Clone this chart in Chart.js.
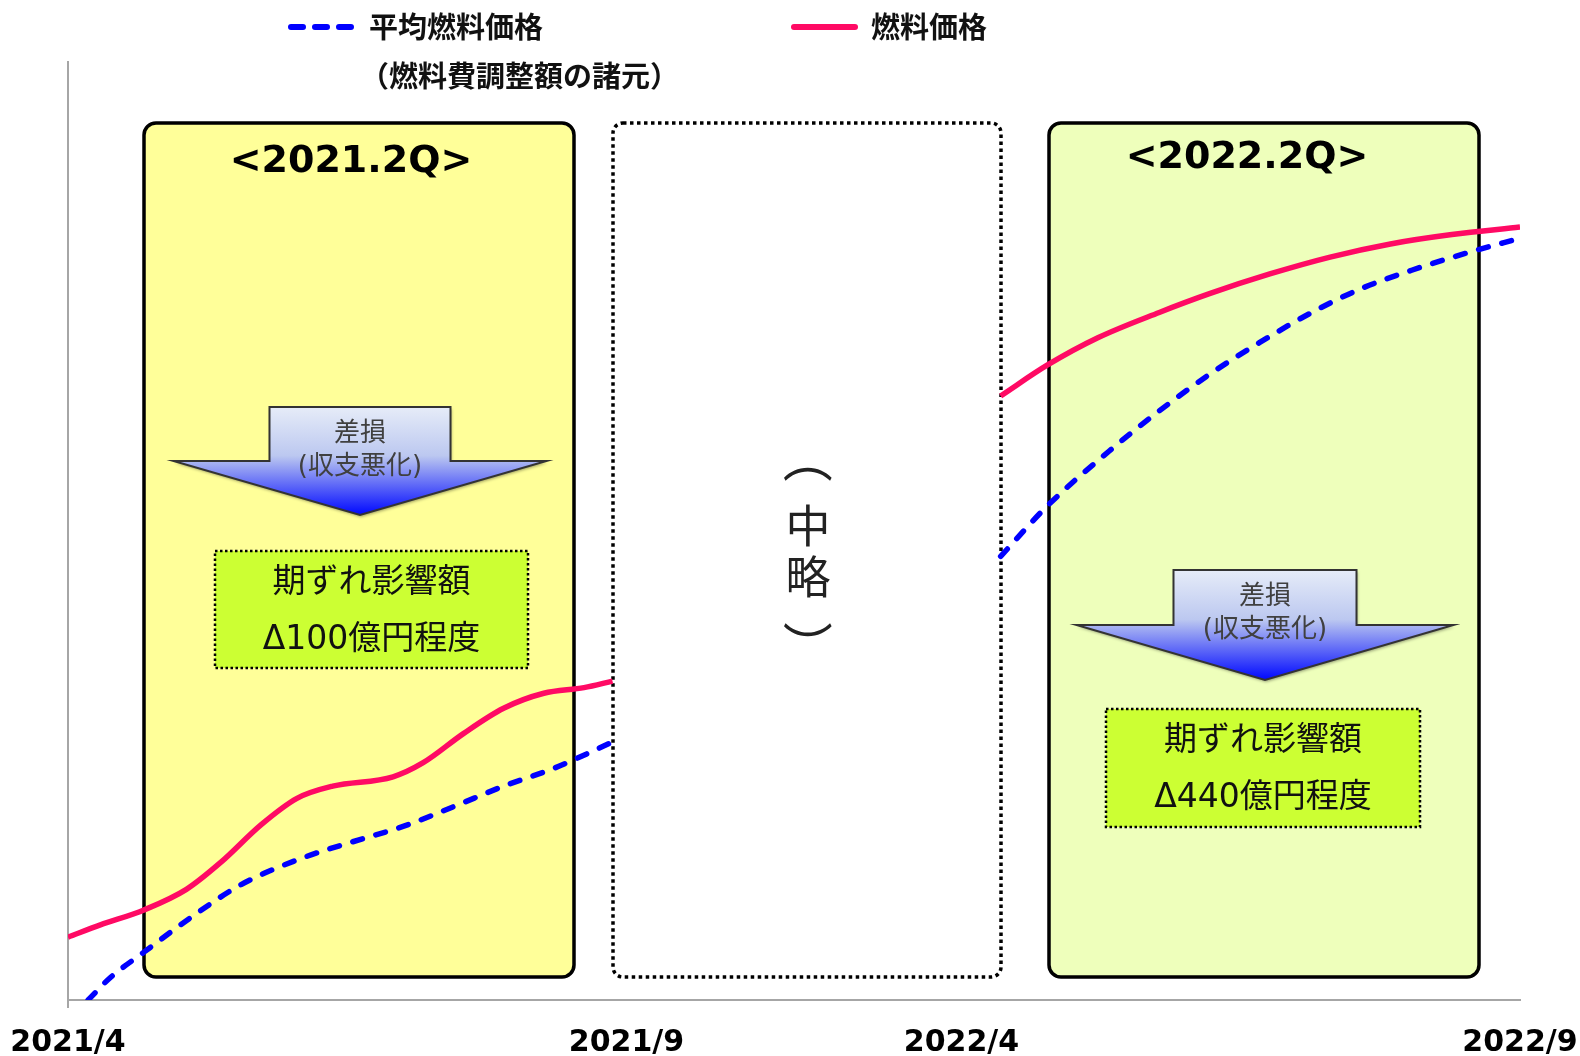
<!DOCTYPE html>
<html><head><meta charset="utf-8">
<script src="https://cdn.jsdelivr.net/npm/chart.js@4.4.0/dist/chart.umd.min.js"></script>
<style>html,body{margin:0;padding:0;background:#fff;}#wrap{width:1580px;height:1056px;position:relative;}</style>
</head><body><div id="wrap"><canvas id="c"></canvas></div>
<script>
// ---- data ----
const tickValues = [0, 5, 8, 13];
const tickLabels = ['2021/4', '2021/9', '2022/4', '2022/9'];

// 燃料価格 (solid red)
const fuelX1 = [0, 0.29, 0.68, 1.06, 1.37, 1.73, 2.05, 2.37, 2.91, 3.18, 3.54, 3.90, 4.26, 4.62, 4.875];
const fuelY1 = [6.7, 8.0, 9.6, 11.8, 14.7, 18.7, 21.5, 22.8, 23.8, 25.3, 28.4, 31.1, 32.7, 33.3, 34.0];
const fuelX2 = [8.35, 8.77, 9.22, 9.77, 10.22, 10.76, 11.30, 11.84, 12.39, 13];
const fuelY2 = [64.4, 67.7, 70.6, 73.3, 75.3, 77.4, 79.2, 80.6, 81.6, 82.4];

// 平均燃料価格 (dashed blue)
const avgX1 = [0.18, 0.38, 0.68, 1.10, 1.55, 2.09, 2.64, 3.0, 3.45, 3.90, 4.35, 4.875];
const avgY1 = [0, 2.4, 5.1, 8.8, 12.3, 15.1, 17.2, 18.5, 20.6, 22.8, 24.7, 27.5];
const avgX2 = [8.35, 8.77, 9.32, 9.77, 10.22, 10.67, 11.12, 11.57, 12.03, 12.57, 13];
const avgY2 = [47.3, 52.7, 58.5, 62.8, 66.7, 70.1, 73.2, 75.8, 77.8, 79.8, 81.2];

const seriesNames = ['平均燃料価格', '燃料価格'];
const legendSub = '（燃料費調整額の諸元）';

function pts(xs, ys) { return xs.map((x, i) => ({ x: x, y: ys[i] })); }
function joined(x1, y1, x2, y2) {
  return pts(x1, y1).concat([{ x: (x1[x1.length - 1] + x2[0]) / 2, y: null }], pts(x2, y2));
}

const RED = '#FF0A64', BLUE = '#0000FF';
const FJ = "'Noto Sans CJK JP', 'Noto Sans', sans-serif";
const FM = "'DejaVu Sans', 'Noto Sans CJK JP', sans-serif";

// ---- annotation drawing ----
function drawArrow(ctx, cx, top, stemW, stemH, headW, headH) {
  ctx.save();
  const sx = cx - stemW / 2, ex = cx + stemW / 2, sh = top + stemH, tip = sh + headH;
  ctx.beginPath();
  ctx.moveTo(sx, top); ctx.lineTo(ex, top); ctx.lineTo(ex, sh);
  ctx.lineTo(cx + headW / 2, sh); ctx.lineTo(cx, tip); ctx.lineTo(cx - headW / 2, sh);
  ctx.lineTo(sx, sh); ctx.closePath();
  const g = ctx.createLinearGradient(0, top, 0, tip);
  g.addColorStop(0, '#E6ECF8'); g.addColorStop(0.45, '#BCC8F0'); g.addColorStop(1, '#0008FF');
  ctx.shadowColor = 'rgba(0,0,0,0.35)'; ctx.shadowBlur = 3; ctx.shadowOffsetX = 1; ctx.shadowOffsetY = 2;
  ctx.fillStyle = g; ctx.fill();
  ctx.shadowColor = 'transparent';
  ctx.strokeStyle = '#333'; ctx.lineWidth = 2; ctx.stroke();
  ctx.fillStyle = '#404040'; ctx.textAlign = 'center'; ctx.textBaseline = 'middle';
  ctx.font = "26px " + FJ;
  ctx.fillText('差損', cx, top + 24);
  ctx.font = "26px " + FM;
  ctx.fillText('(収支悪化)', cx, top + 60);
  ctx.restore();
}
function drawNote(ctx, x, y, w, h, line1, line2) {
  ctx.save();
  ctx.fillStyle = '#CCFF33'; ctx.fillRect(x, y, w, h);
  ctx.setLineDash([2.5, 2.5]); ctx.strokeStyle = '#000'; ctx.lineWidth = 2.5;
  ctx.strokeRect(x, y, w, h);
  ctx.setLineDash([]);
  ctx.fillStyle = '#111'; ctx.textAlign = 'center'; ctx.textBaseline = 'middle';
  ctx.font = "33px " + FM;
  ctx.fillText(line1, x + w / 2, y + 32);
  ctx.fillText(line2, x + w / 2, y + 89);
  ctx.restore();
}

const annot = {
  id: 'annot',
  beforeDatasetsDraw(chart) {
    const ctx = chart.ctx;
    ctx.save();
    // left period box
    ctx.beginPath(); ctx.roundRect(144, 123, 430, 854, 12);
    ctx.fillStyle = '#FFFF99'; ctx.fill();
    ctx.lineWidth = 3.5; ctx.strokeStyle = '#000'; ctx.stroke();
    // right period box
    ctx.beginPath(); ctx.roundRect(1049, 123, 430, 854, 12);
    ctx.fillStyle = '#EEFFBB'; ctx.fill();
    ctx.lineWidth = 3.5; ctx.strokeStyle = '#000'; ctx.stroke();
    // middle dotted box
    ctx.beginPath(); ctx.roundRect(613, 123, 388, 854, 10);
    ctx.setLineDash([3.5, 3.5]); ctx.lineWidth = 3.5; ctx.strokeStyle = '#000'; ctx.stroke();
    ctx.setLineDash([]);
    // titles
    ctx.fillStyle = '#000'; ctx.textAlign = 'center'; ctx.textBaseline = 'middle';
    ctx.font = "bold 38px 'DejaVu Sans', " + FJ;
    ctx.fillText('<2021.2Q>', 351, 162);
    ctx.fillText('<2022.2Q>', 1247, 158);
    // vertical （中略）
    ctx.fillStyle = '#222';
    ctx.font = "45px " + FJ;
    ctx.fillText('中', 808, 526);
    ctx.fillText('略', 808, 577);
    ctx.font = "50px " + FJ;
    ctx.save(); ctx.translate(808, 458); ctx.rotate(Math.PI / 2); ctx.fillText('（', 0, 0); ctx.restore();
    ctx.save(); ctx.translate(808, 646); ctx.rotate(Math.PI / 2); ctx.fillText('）', 0, 0); ctx.restore();
    ctx.restore();
    drawArrow(ctx, 360, 407, 181, 54, 373, 54);
    drawArrow(ctx, 1265, 570, 183, 55, 377, 55);
    drawNote(ctx, 215, 551, 313, 117, '期ずれ影響額', 'Δ100億円程度');
    drawNote(ctx, 1106, 709, 314, 118, '期ずれ影響額', 'Δ440億円程度');
  },
  afterDraw(chart) {
    const ctx = chart.ctx;
    ctx.save();
    ctx.lineCap = 'round';
    // legend blue dashed
    ctx.strokeStyle = BLUE; ctx.lineWidth = 6;
    ctx.setLineDash([12, 12]);
    ctx.beginPath(); ctx.moveTo(291, 27); ctx.lineTo(351, 27); ctx.stroke();
    ctx.setLineDash([]);
    ctx.strokeStyle = RED;
    ctx.beginPath(); ctx.moveTo(794, 27); ctx.lineTo(855, 27); ctx.stroke();
    ctx.fillStyle = '#111'; ctx.textAlign = 'left'; ctx.textBaseline = 'middle';
    ctx.font = "bold 29px " + FJ;
    ctx.fillText(seriesNames[0], 369, 27);
    ctx.fillText(legendSub, 360, 76);
    ctx.fillText(seriesNames[1], 871, 27);
    // short extension of the y axis line below the x axis
    ctx.strokeStyle = '#A6A6A6'; ctx.lineWidth = 2; ctx.lineCap = 'butt';
    const xa = chart.scales.x;
    ctx.beginPath(); ctx.moveTo(xa.left, xa.top); ctx.lineTo(xa.left, xa.top + 8); ctx.stroke();
    ctx.restore();
  }
};

new Chart(document.getElementById('c'), {
  type: 'line',
  data: {
    datasets: [
      { label: seriesNames[1], data: joined(fuelX1, fuelY1, fuelX2, fuelY2),
        borderColor: RED, borderWidth: 5.5, pointRadius: 0, cubicInterpolationMode: 'monotone',
        spanGaps: false, fill: false, borderCapStyle: 'butt' },
      { label: seriesNames[0], data: joined(avgX1, avgY1, avgX2, avgY2),
        borderColor: BLUE, borderWidth: 5.5, pointRadius: 0, cubicInterpolationMode: 'monotone',
        spanGaps: false, fill: false, borderDash: [10, 14], borderCapStyle: 'round' }
    ]
  },
  options: {
    responsive: true, maintainAspectRatio: false, animation: false,
    layout: { padding: { left: 68, right: 60, top: 62, bottom: 0 } },
    plugins: { legend: { display: false }, tooltip: { enabled: false } },
    scales: {
      x: {
        type: 'linear', min: 0, max: 13,
        afterBuildTicks: (s) => { s.ticks = tickValues.map(v => ({ value: v })); },
        afterFit: (s) => { s.height = 56; s.paddingLeft = 0; s.paddingRight = 0; },
        ticks: {
          autoSkip: false, maxRotation: 0, padding: 25, color: '#000',
          font: { family: "'DejaVu Sans'", size: 30, weight: 'bold' },
          callback: (v) => { const i = tickValues.indexOf(v); return i >= 0 ? tickLabels[i] : ''; }
        },
        grid: { display: false, drawTicks: false },
        border: { display: true, color: '#A6A6A6', width: 2 }
      },
      y: {
        min: 0, max: 100,
        afterFit: (s) => { s.width = 0; s.paddingTop = 0; s.paddingBottom = 0; },
        ticks: { display: false },
        grid: { display: false, drawTicks: false },
        border: { display: true, color: '#A6A6A6', width: 2 }
      }
    }
  },
  plugins: [annot]
});
</script></body></html>
